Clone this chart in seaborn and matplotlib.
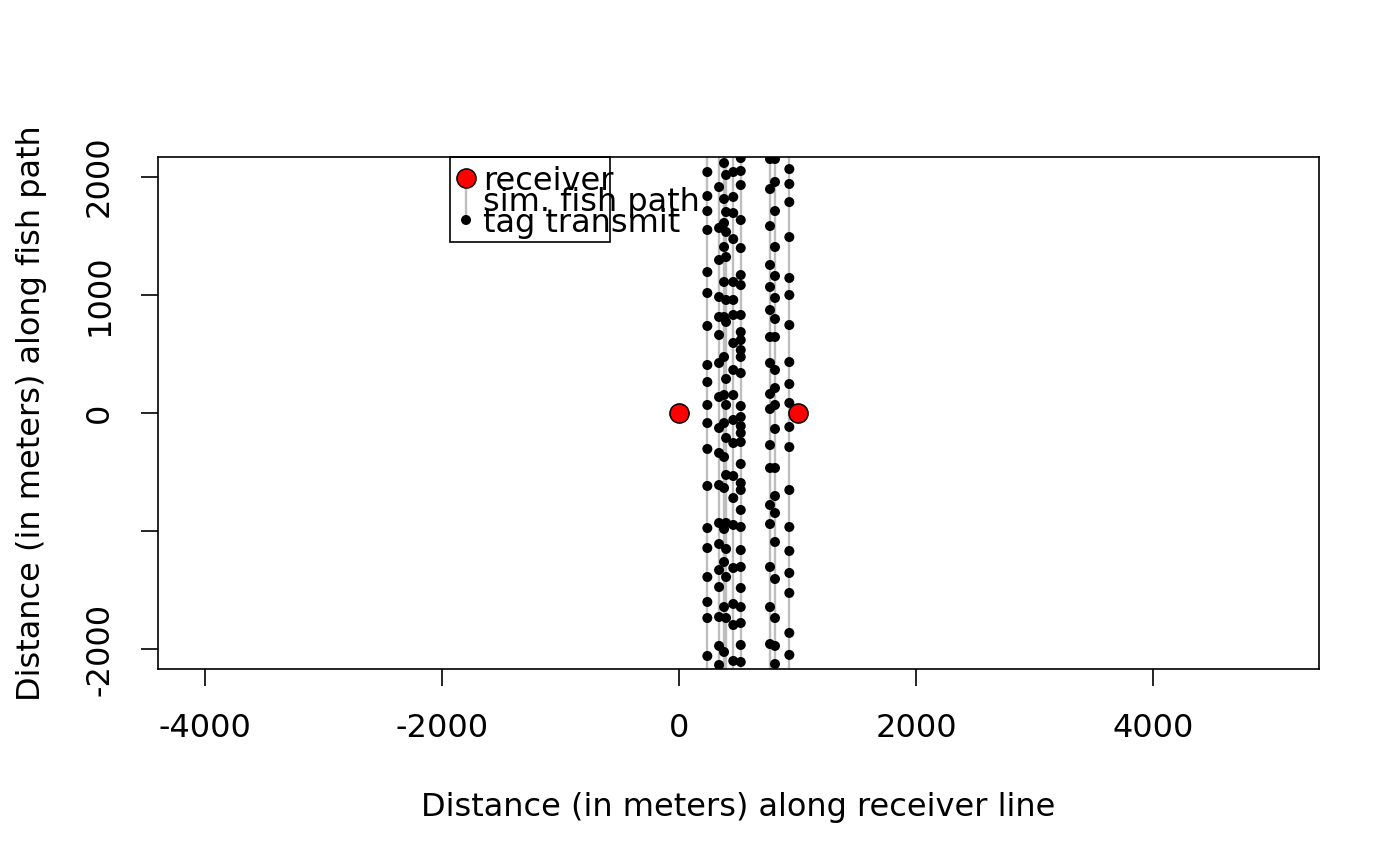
import numpy as np
import pandas as pd
import matplotlib
matplotlib.use("Agg")
import matplotlib.pyplot as plt
from matplotlib.patches import Rectangle
import seaborn as sns

# ---- data (meters) ----
receiver_x = [0, 1000]
receiver_y = [0, 0]

path_x = [239, 338, 380, 397, 458, 521, 768, 810, 931]

tx_y_1 = [2038, 1835, 1708, 1548, 1192, 1015, 736, 406, 262, 68, -85, -304, -617,
          -973, -1142, -1387, -1598, -1734, -2055]
tx_y_2 = [1911, 1565, 1294, 981, 812, 660, 423, 135, -127, -338, -609, -930, -1108,
          -1328, -1472, -1725, -1970, -2131]
tx_y_3 = [2114, 1810, 1607, 1404, 1108, 812, 474, 152, -85, -372, -634, -981, -1260,
          -1641, -2021]
tx_y_4 = [2013, 1700, 1531, 1319, 956, 770, 288, 68, -211, -524, -930, -1150, -1387,
          -1734]
tx_y_5 = [2038, 1827, 1691, 1471, 1108, 956, 829, 592, 364, 152, -59, -254, -533,
          -719, -947, -1311, -1615, -1793, -2097]
tx_y_6 = [2156, 2047, 1928, 1632, 1395, 1167, 1082, 829, 685, 617, 533, 474, 338, 59,
          -34, -110, -169, -245, -431, -592, -651, -820, -964, -1159, -1302, -1480,
          -1641, -1776, -1962, -2106]
tx_y_7 = [2148, 1894, 1581, 1252, 1066, 871, 643, 423, 161, 34, -271, -465, -778,
          -939, -1302, -1641, -1954]
tx_y_8 = [2148, 1954, 1708, 1404, 1159, 973, 795, 643, 364, 211, 68, -135, -465, -702,
          -846, -1091, -1404, -1734, -1970, -2123]
tx_y_9 = [2063, 1937, 1784, 1488, 1142, 998, 744, 431, 245, 85, -118, -288, -651,
          -964, -1167, -1353, -1522, -1860, -2046]

tx_all = [tx_y_1, tx_y_2, tx_y_3, tx_y_4, tx_y_5, tx_y_6, tx_y_7, tx_y_8, tx_y_9]

x_ticks = [-4000, -2000, 0, 2000, 4000]
y_ticks = [-2000, -1000, 0, 1000, 2000]
y_tick_labels = ["-2000", "", "0", "1000", "2000"]

path_y_range = [-5000, 5000]

# ---- build table ----
rows = []
for px, ys in zip(path_x, tx_all):
    for yv in ys:
        rows.append({"x": px, "y": yv})
tx = pd.DataFrame(rows)
rec = pd.DataFrame({"x": receiver_x, "y": receiver_y})

sns.set_theme(style="white")
plt.rcParams["font.family"] = ["DejaVu Sans"]

fig = plt.figure(figsize=(14, 8.66), dpi=100)
ax = fig.add_axes([0.1129, 0.2275, 0.8292, 0.5912])

FS = 23
GREY = "#BEBEBE"
DOT_S = 52
REC_S = 190

for px in path_x:
    ax.plot([px, px], path_y_range, color=GREY, lw=1.7, zorder=1)

sns.scatterplot(data=tx, x="x", y="y", ax=ax, color="black", s=DOT_S,
                edgecolor="none", linewidth=0, zorder=3, legend=False)
sns.scatterplot(data=rec, x="x", y="y", ax=ax, color="red", s=REC_S,
                edgecolor="black", linewidth=1.1, zorder=4, legend=False)

ax.set_xlim(-4397, 5401)
ax.set_ylim(-2165, 2165)
ax.set_xticks(x_ticks)
ax.set_xticklabels([str(v) for v in x_ticks])
ax.set_yticks(y_ticks)
ax.set_yticklabels(y_tick_labels, rotation=90, va="center")

for s in ax.spines.values():
    s.set_visible(True)
    s.set_color("black")
    s.set_linewidth(1.2)

ax.tick_params(axis="both", which="both", direction="out", length=12, width=1.2,
               color="black", labelsize=FS, labelcolor="black",
               bottom=True, left=True, top=False, right=False)
ax.tick_params(axis="x", pad=20)
ax.tick_params(axis="y", pad=19)

ax.set_xlabel("Distance (in meters) along receiver line", fontsize=FS, color="black",
              labelpad=34)
ax.set_ylabel("Distance (in meters) along fish path", fontsize=FS, color="black",
              labelpad=27)
ax.grid(False)

# ---- R-style legend ----
ax.add_patch(Rectangle((0.2515, 0.834), 0.1378, 0.166, transform=ax.transAxes,
                       fill=False, edgecolor="black", lw=1.2, zorder=5, clip_on=False))
ax.plot([0.2653, 0.2653], [0.959, 0.877], transform=ax.transAxes, color=GREY,
        lw=1.7, zorder=5)
ax.scatter([0.2653], [0.959], transform=ax.transAxes, s=REC_S, color="red",
           edgecolor="black", linewidth=1.1, zorder=6)
ax.scatter([0.2653], [0.877], transform=ax.transAxes, s=DOT_S, color="black",
           edgecolor="none", zorder=6)
for yy, lab in zip([0.952, 0.912, 0.871], ["receiver", "sim. fish path", "tag transmit"]):
    ax.text(0.2799, yy, lab, transform=ax.transAxes, fontsize=FS, va="center",
            ha="left", color="black", zorder=7, clip_on=False)

fig.savefig("out.png", dpi=100, facecolor="white")
